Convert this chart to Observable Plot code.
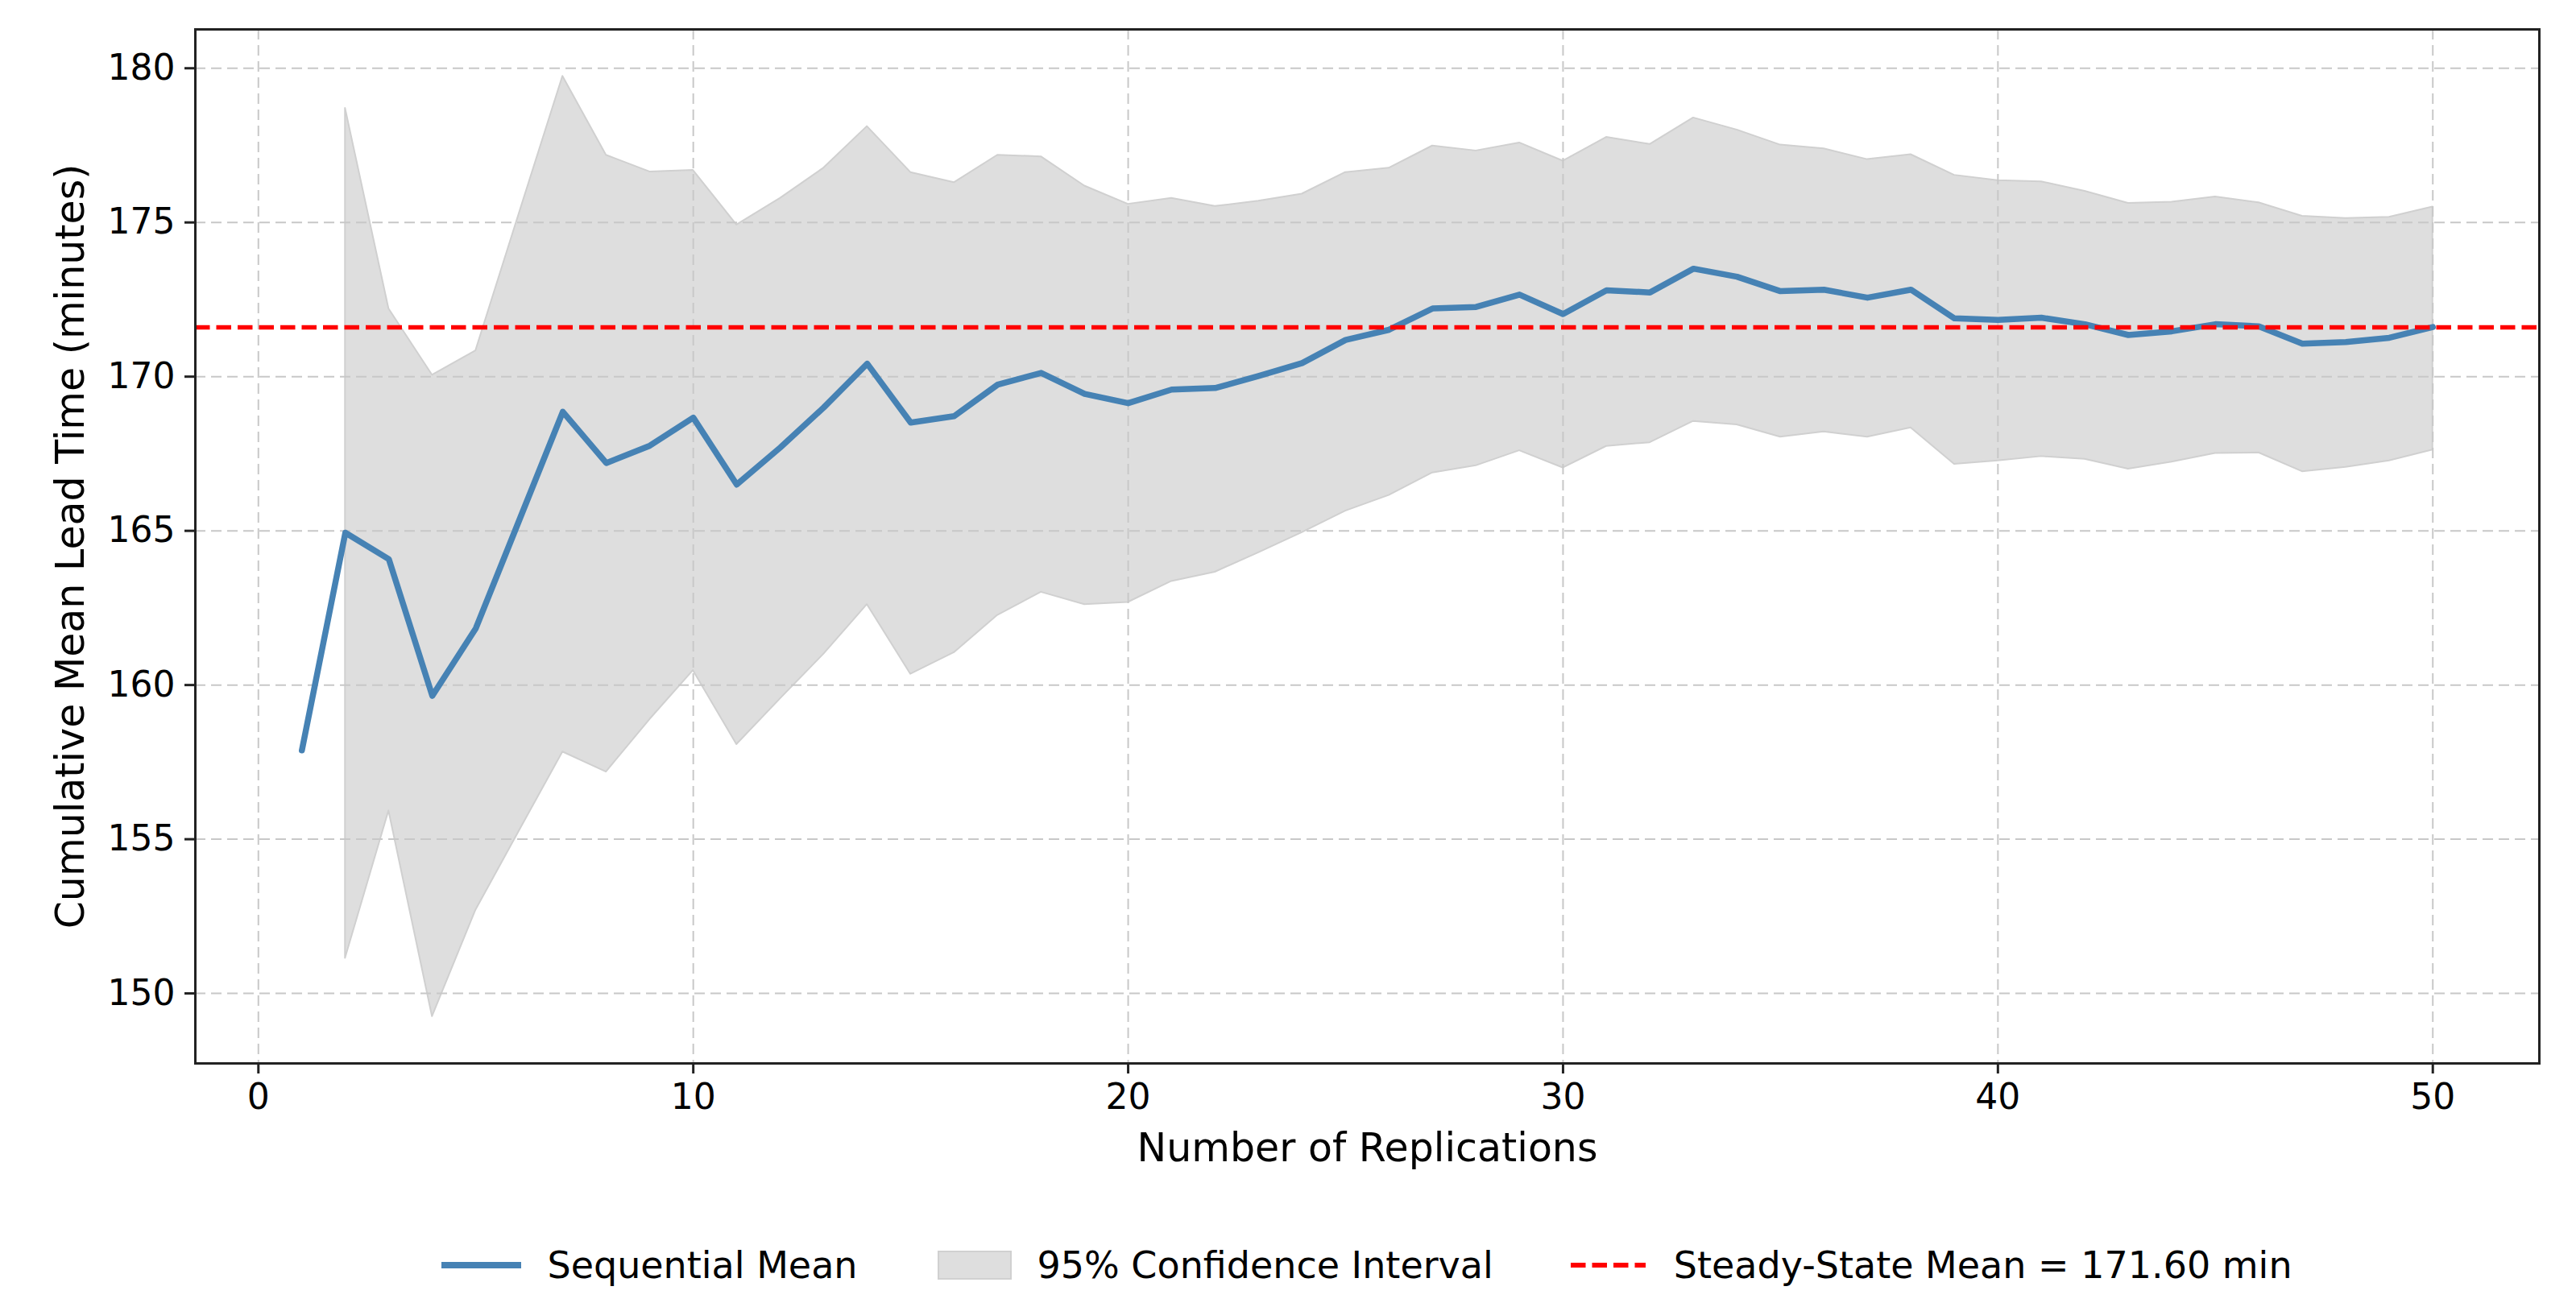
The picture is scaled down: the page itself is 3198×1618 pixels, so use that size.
<!DOCTYPE html>
<html>
<head>
<meta charset="utf-8">
<script src="https://cdn.jsdelivr.net/npm/d3@7"></script>
<script src="https://cdn.jsdelivr.net/npm/@observablehq/plot@0.6"></script>
<style>
  html, body { margin: 0; padding: 0; background: #fff; }
  #wrap { width: 3198px; height: 1618px; position: relative; font-family: "DejaVu Sans", sans-serif; }
  #legend { position: absolute; left: 242px; width: 2910px; top: 1541px; height: 60px;
            display: flex; justify-content: center; align-items: center; font-size: 46px; color: #000; }
  .item { display: flex; align-items: center; }
  .txt { white-space: nowrap; }
</style>
</head>
<body>
<div id="wrap">
  <div id="chart"></div>
  <div id="legend">
    <div class="item">
      <svg width="99" height="20"><line x1="0" x2="99" y1="10" y2="10" stroke="#4682b4" stroke-width="8"/></svg>
      <span class="txt" style="margin-left:32px">Sequential Mean</span>
    </div>
    <div class="item" style="margin-left:99px">
      <svg width="92" height="36"><rect x="1" y="1" width="90" height="34" fill="#dedede" stroke="#d0d0d0" stroke-width="2"/></svg>
      <span class="txt" style="margin-left:32px">95% Confidence Interval</span>
    </div>
    <div class="item" style="margin-left:96px">
      <svg width="93" height="20"><line x1="0" x2="93" y1="10" y2="10" stroke="red" stroke-width="6" stroke-dasharray="18.5,8"/></svg>
      <span class="txt" style="margin-left:35px">Steady-State Mean = 171.60 min</span>
    </div>
  </div>
</div>
<script>
const replications = [1,2,3,4,5,6,7,8,9,10,11,12,13,14,15,16,17,18,19,20,21,22,23,24,25,26,27,28,29,30,31,32,33,34,35,36,37,38,39,40,41,42,43,44,45,46,47,48,49,50];
const seqMean = [157.88,164.94,164.08,159.65,161.84,165.35,168.86,167.20,167.76,168.67,
                 166.50,167.70,169.00,170.42,168.51,168.72,169.74,170.12,169.44,169.14,
                 169.58,169.63,170.02,170.44,171.19,171.52,172.21,172.26,172.66,172.03,
                 172.80,172.73,173.50,173.24,172.77,172.82,172.56,172.82,171.89,171.84,
                 171.91,171.70,171.35,171.47,171.70,171.63,171.07,171.12,171.26,171.61];
const ciUpper = [null,178.70,172.20,170.05,170.84,175.30,179.74,177.18,176.64,176.69,
                 174.92,175.78,176.76,178.11,176.62,176.29,177.18,177.13,176.18,175.59,
                 175.78,175.52,175.69,175.92,176.62,176.76,177.48,177.32,177.58,176.99,
                 177.76,177.53,178.39,178.00,177.51,177.39,177.04,177.20,176.53,176.36,
                 176.32,176.01,175.62,175.66,175.83,175.64,175.20,175.13,175.17,175.50];
const ciLower = [null,151.14,155.92,149.25,152.70,155.27,157.83,157.18,158.88,160.47,
                 158.07,159.55,161.00,162.61,160.35,161.05,162.26,163.01,162.61,162.68,
                 163.36,163.66,164.29,164.94,165.64,166.15,166.88,167.11,167.60,167.04,
                 167.74,167.86,168.55,168.44,168.04,168.21,168.04,168.34,167.16,167.27,
                 167.41,167.32,167.00,167.23,167.51,167.53,166.92,167.06,167.27,167.62];
const steadyStateMean = 171.60;
const xTicks = [0,10,20,30,40,50];
const yTicks = [150,155,160,165,170,175,180];
const xLabel = "Number of Replications";
const yLabel = "Cumulative Mean Lead Time (minutes)";

const rows = replications.map((n, i) => ({n, mean: seqMean[i], lo: ciLower[i], hi: ciUpper[i]}));
const ciRows = rows.filter(d => d.lo != null);

const chart = Plot.plot({
  width: 3198,
  height: 1480,
  marginLeft: 242,
  marginRight: 46,
  marginTop: 36,
  marginBottom: 160,
  x: {domain: [-1.45, 52.45]},
  y: {domain: [147.73, 181.26]},
  style: {fontFamily: "DejaVu Sans", fontSize: "44px", color: "#000", background: "white"},
  marks: [
    Plot.areaY(ciRows, {x: "n", y1: "lo", y2: "hi", fill: "#dedede", stroke: "#d0d0d0", strokeWidth: 2}),
    Plot.gridX(xTicks, {stroke: "#c8c8c8", strokeOpacity: 1, strokeWidth: 2, strokeDasharray: "13,7"}),
    Plot.gridY(yTicks, {stroke: "#c8c8c8", strokeOpacity: 1, strokeWidth: 2, strokeDasharray: "13,7"}),
    Plot.line(rows, {x: "n", y: "mean", stroke: "#4682b4", strokeWidth: 7.5}),
    Plot.ruleY([steadyStateMean], {stroke: "red", strokeWidth: 5.5, strokeDasharray: "18.5,8"}),
    Plot.frame({stroke: "#222", strokeWidth: 3}),
    Plot.axisX({ticks: xTicks, tickSize: 13, tickPadding: 12, fontSize: 44, label: null, stroke: "#222", strokeWidth: 3}),
    Plot.axisY({ticks: yTicks, tickSize: 13, tickPadding: 12, fontSize: 44, label: null, stroke: "#222", strokeWidth: 3}),
    Plot.text([xLabel], {text: d => d, frameAnchor: "bottom", dy: 87, lineAnchor: "top", fontSize: 49, fill: "#000"}),
    Plot.text([yLabel], {text: d => d, frameAnchor: "left", dx: -154, rotate: -90, textAnchor: "middle", lineAnchor: "middle", fontSize: 49, fill: "#000"})
  ]
});
document.getElementById("chart").appendChild(chart);
</script>
</body>
</html>
